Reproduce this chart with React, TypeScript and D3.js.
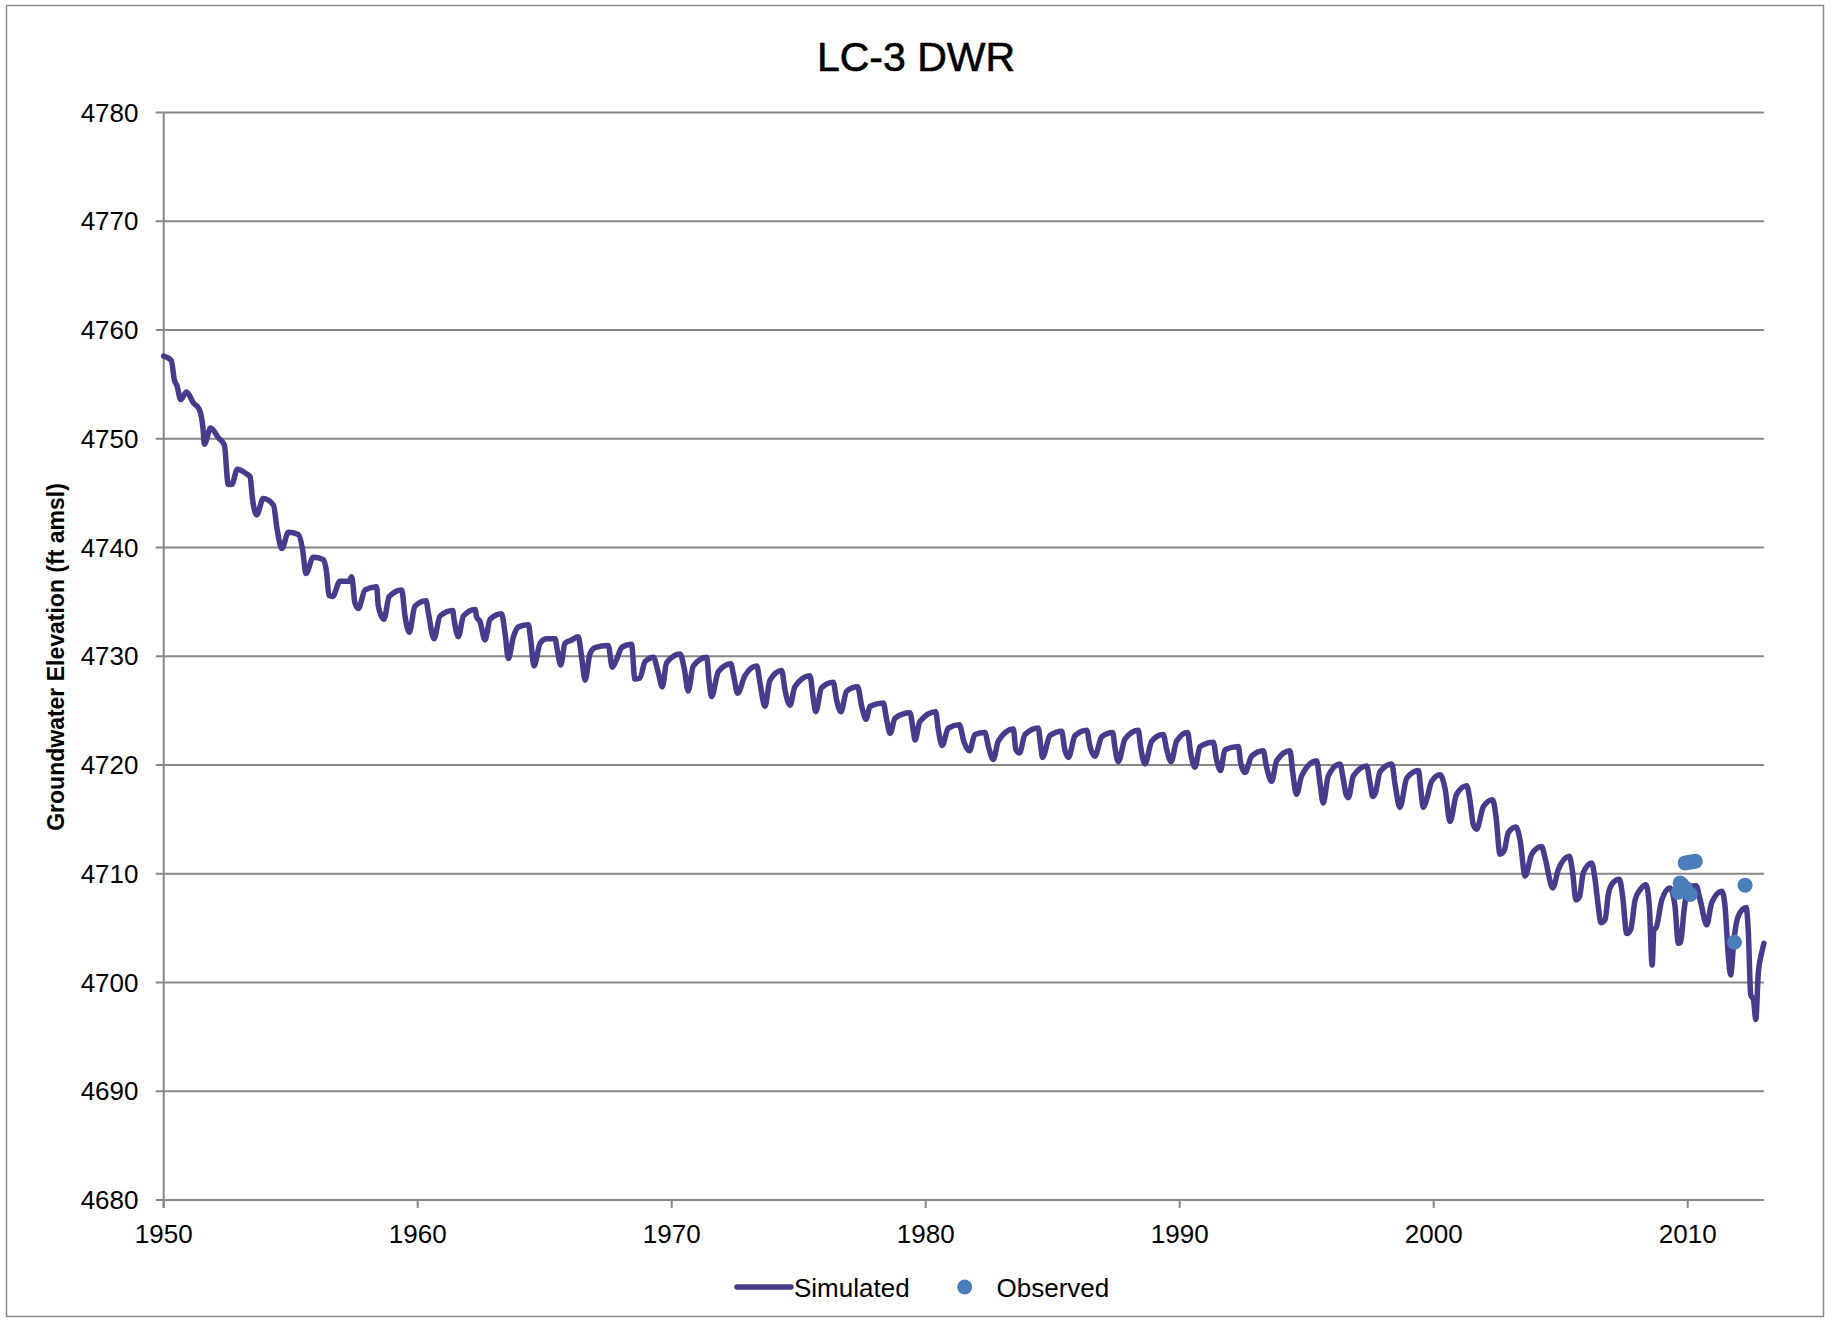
import React from "react";
import * as d3 from "d3";

const chartTitle = "LC-3 DWR";
const yAxisTitle = "Groundwater Elevation (ft amsl)";
const xTicks = [1950, 1960, 1970, 1980, 1990, 2000, 2010];
const yTicks = [4680, 4690, 4700, 4710, 4720, 4730, 4740, 4750, 4760, 4770, 4780];
const legendLabels = ["Simulated", "Observed"];

// [decimal year, elevation ft amsl]
const simulated: [number, number][] = [
  [1950.0, 4757.6], [1950.3, 4757.2], [1950.42, 4755.4], [1950.52, 4754.9], [1950.67, 4753.6], [1950.9, 4754.3],
  [1951.17, 4753.3], [1951.4, 4752.7], [1951.55, 4750.9], [1951.6, 4749.5], [1951.85, 4751.0],
  [1952.15, 4750.1], [1952.39, 4749.4], [1952.54, 4745.8], [1952.68, 4745.8], [1952.9, 4747.2],
  [1953.24, 4746.8], [1953.4, 4746.5], [1953.5, 4744.4], [1953.66, 4743.0], [1953.92, 4744.5],
  [1954.32, 4743.9], [1954.47, 4741.6], [1954.65, 4739.9], [1954.91, 4741.4],
  [1955.3, 4741.2], [1955.47, 4739.8], [1955.6, 4737.6], [1955.89, 4739.1],
  [1956.28, 4738.9], [1956.42, 4737.6], [1956.5, 4735.6], [1956.65, 4735.5], [1956.94, 4736.9],
  [1957.3, 4736.9], [1957.4, 4737.3], [1957.53, 4734.9], [1957.66, 4734.4], [1957.93, 4736.1],
  [1958.38, 4736.4], [1958.45, 4734.6], [1958.67, 4733.4], [1958.88, 4735.5],
  [1959.37, 4736.1], [1959.5, 4733.7], [1959.67, 4732.2], [1959.89, 4734.6],
  [1960.33, 4735.1], [1960.42, 4734.0], [1960.64, 4731.6], [1960.88, 4733.7],
  [1961.38, 4734.2], [1961.43, 4733.4], [1961.6, 4731.8], [1961.8, 4733.7],
  [1962.26, 4734.3], [1962.32, 4733.6], [1962.45, 4733.2], [1962.65, 4731.5], [1962.85, 4733.4],
  [1963.3, 4733.9], [1963.44, 4732.1], [1963.57, 4729.8], [1963.77, 4731.8], [1963.97, 4732.7],
  [1964.36, 4732.9], [1964.45, 4731.5], [1964.58, 4729.1], [1964.82, 4731.2],
  [1965.08, 4731.6], [1965.41, 4731.6], [1965.5, 4730.5], [1965.63, 4729.2], [1965.8, 4731.2],
  [1966.06, 4731.5], [1966.32, 4731.8], [1966.45, 4730.0], [1966.59, 4727.8], [1966.78, 4730.2], [1966.98, 4730.8],
  [1967.5, 4731.0], [1967.66, 4729.0], [1967.83, 4729.7],
  [1968.03, 4730.8], [1968.42, 4731.1], [1968.55, 4727.9], [1968.75, 4728.0], [1968.95, 4729.5],
  [1969.28, 4729.9], [1969.47, 4728.5], [1969.63, 4727.2], [1969.8, 4729.4],
  [1970.33, 4730.2], [1970.5, 4728.8], [1970.65, 4726.8], [1970.85, 4729.1],
  [1971.38, 4729.9], [1971.47, 4727.8], [1971.57, 4726.3], [1971.84, 4728.6],
  [1972.33, 4729.3], [1972.43, 4728.3], [1972.6, 4726.6], [1972.88, 4728.2],
  [1973.35, 4729.1], [1973.48, 4727.5], [1973.67, 4725.4], [1973.87, 4727.8],
  [1974.33, 4728.7], [1974.46, 4726.9], [1974.66, 4725.5], [1974.85, 4727.2],
  [1975.44, 4728.2], [1975.58, 4726.0], [1975.67, 4724.9], [1975.9, 4727.1],
  [1976.36, 4727.6], [1976.49, 4726.0], [1976.66, 4724.9], [1976.89, 4726.8],
  [1977.32, 4727.2], [1977.48, 4725.4], [1977.65, 4724.2], [1977.81, 4725.4],
  [1978.33, 4725.7], [1978.46, 4724.2], [1978.6, 4722.9], [1978.79, 4724.3],
  [1979.38, 4724.8], [1979.51, 4723.2], [1979.58, 4722.3], [1979.77, 4724.0],
  [1980.39, 4724.9], [1980.5, 4723.2], [1980.65, 4721.8], [1980.89, 4723.4],
  [1981.32, 4723.7], [1981.51, 4722.1], [1981.72, 4721.3], [1981.94, 4722.8],
  [1982.33, 4723.0], [1982.47, 4721.7], [1982.66, 4720.5], [1982.86, 4722.2],
  [1983.45, 4723.3], [1983.55, 4721.4], [1983.69, 4721.1], [1983.91, 4722.8],
  [1984.43, 4723.4], [1984.53, 4721.7], [1984.6, 4720.7], [1984.89, 4722.7],
  [1985.35, 4723.1], [1985.48, 4721.4], [1985.62, 4720.7], [1985.88, 4722.7],
  [1986.34, 4723.2], [1986.47, 4721.7], [1986.66, 4720.8], [1986.93, 4722.6],
  [1987.36, 4723.0], [1987.45, 4721.6], [1987.58, 4720.3], [1987.85, 4722.4],
  [1988.37, 4723.2], [1988.46, 4721.7], [1988.63, 4720.1], [1988.9, 4722.2],
  [1989.35, 4722.8], [1989.49, 4721.4], [1989.66, 4720.3], [1989.88, 4722.2],
  [1990.31, 4723.0], [1990.43, 4721.1], [1990.6, 4719.8], [1990.8, 4721.7],
  [1991.32, 4722.1], [1991.45, 4720.5], [1991.61, 4719.5], [1991.78, 4721.4],
  [1992.31, 4721.7], [1992.4, 4720.2], [1992.57, 4719.3], [1992.83, 4720.8],
  [1993.29, 4721.3], [1993.42, 4719.8], [1993.62, 4718.5], [1993.82, 4720.4],
  [1994.34, 4721.3], [1994.45, 4719.3], [1994.6, 4717.3], [1994.8, 4719.0],
  [1995.39, 4720.4], [1995.52, 4718.4], [1995.65, 4716.5], [1995.85, 4719.0],
  [1996.31, 4720.1], [1996.44, 4718.7], [1996.55, 4717.3], [1996.64, 4717.0], [1996.84, 4719.0],
  [1997.36, 4719.9], [1997.49, 4718.4], [1997.6, 4717.1], [1997.7, 4717.4], [1997.89, 4719.4],
  [1998.35, 4720.1], [1998.48, 4718.2], [1998.67, 4716.1], [1998.94, 4718.8],
  [1999.4, 4719.5], [1999.49, 4717.8], [1999.59, 4716.1], [1999.72, 4716.8], [1999.92, 4718.5],
  [2000.25, 4719.1], [2000.45, 4717.8], [2000.64, 4714.8], [2000.9, 4717.3],
  [2001.3, 4718.1], [2001.43, 4716.7], [2001.56, 4714.5], [2001.69, 4714.1], [2001.96, 4716.2],
  [2002.32, 4716.8], [2002.45, 4715.3], [2002.61, 4711.8], [2002.77, 4712.1], [2002.94, 4713.8],
  [2003.24, 4714.3], [2003.4, 4713.1], [2003.6, 4709.8], [2003.86, 4711.8],
  [2004.25, 4712.5], [2004.38, 4711.5], [2004.69, 4708.7], [2004.91, 4710.4],
  [2005.34, 4711.6], [2005.47, 4710.1], [2005.6, 4707.6], [2005.74, 4707.9], [2005.89, 4710.1],
  [2006.22, 4711.0], [2006.35, 4709.5], [2006.48, 4707.0], [2006.58, 4705.5], [2006.75, 4705.8], [2006.88, 4708.2],
  [2007.07, 4709.2], [2007.31, 4709.5], [2007.44, 4707.9], [2007.6, 4704.5], [2007.76, 4704.9], [2007.93, 4707.6],
  [2008.15, 4708.6], [2008.36, 4709.0], [2008.49, 4707.0], [2008.6, 4701.6], [2008.67, 4704.9], [2008.75, 4705.0], [2008.98, 4707.6],
  [2009.3, 4708.7], [2009.5, 4707.0], [2009.63, 4703.6], [2009.72, 4703.7], [2009.86, 4706.7],
  [2010.03, 4708.8], [2010.33, 4708.9], [2010.49, 4707.6], [2010.75, 4705.3], [2010.94, 4707.3],
  [2011.34, 4708.4], [2011.47, 4707.0], [2011.6, 4702.4], [2011.69, 4700.7], [2011.82, 4703.9], [2011.99, 4706.1],
  [2012.3, 4706.9], [2012.39, 4704.5], [2012.48, 4698.9], [2012.59, 4698.4], [2012.68, 4696.6], [2012.78, 4700.9],
  [2012.91, 4702.7], [2013.0, 4703.6],
];

const observed: [number, number][] = [
  [2009.9, 4711.0], [2010.05, 4711.05], [2010.2, 4711.1], [2010.3, 4711.15],
  [2009.7, 4709.15], [2009.63, 4708.3], [2009.76, 4709.0], [2009.9, 4708.7], [2010.1, 4708.1],
  [2012.26, 4708.95], [2011.84, 4703.7],
];

const W = 1834;
const H = 1322;
const FONT = "'Liberation Sans', Arial, sans-serif";
const GRID = "#878787";
const LINE_COLOR = "#463C8C";
const DOT_COLOR = "#4A7EBB";

export default function App() {
  const x = d3.scaleLinear().domain([1950, 2013]).range([163.7, 1763.9]);
  const y = d3.scaleLinear().domain([4680, 4780]).range([1200, 112.5]);
  const line = d3
    .line<[number, number]>()
    .x((d) => x(d[0]))
    .y((d) => y(d[1]))
    .curve(d3.curveMonotoneX);

  const x0 = x.range()[0];
  const x1 = x.range()[1];
  const yBase = y(4680);

  return (
    <svg
      width={W}
      height={H}
      viewBox={`0 0 ${W} ${H}`}
      style={{ position: "absolute", left: 0, top: 0, background: "#fff" }}
      fontFamily={FONT}
    >
      <rect x={0} y={0} width={W} height={H} fill="#fff" />
      <rect x={6.5} y={5.5} width={1817} height={1311} fill="none" stroke="#8a8a8a" strokeWidth={1.5} />

      <text x={916} y={71} textAnchor="middle" fontSize={41} fill="#000" stroke="#000" strokeWidth={0.6}>
        {chartTitle}
      </text>

      {/* gridlines */}
      {yTicks.filter((t) => t !== 4680).map((t) => (
        <line key={"g" + t} x1={x0} x2={x1} y1={y(t)} y2={y(t)} stroke={GRID} strokeWidth={2} />
      ))}
      {/* axes */}
      <line x1={x0} x2={x1} y1={yBase} y2={yBase} stroke={GRID} strokeWidth={2} />
      <line x1={x0} x2={x0} y1={y(4780)} y2={yBase + 8} stroke={GRID} strokeWidth={2} />
      {yTicks.map((t) => (
        <g key={"yt" + t}>
          <line x1={x0 - 8} x2={x0} y1={y(t)} y2={y(t)} stroke={GRID} strokeWidth={2} />
          <text x={138.5} y={y(t) + 9} textAnchor="end" fontSize={26} fill="#000">
            {t}
          </text>
        </g>
      ))}
      {xTicks.map((t) => (
        <g key={"xt" + t}>
          <line x1={x(t)} x2={x(t)} y1={yBase} y2={yBase + 8} stroke={GRID} strokeWidth={2} />
          <text x={x(t)} y={1243} textAnchor="middle" fontSize={26} fill="#000">
            {t}
          </text>
        </g>
      ))}

      <text
        transform={`translate(64,657) rotate(-90)`}
        textAnchor="middle"
        fontSize={23}
        fontWeight="bold"
        fill="#000"
      >
        {yAxisTitle}
      </text>

      <path d={line(simulated) || ""} fill="none" stroke={LINE_COLOR} strokeWidth={5.5} strokeLinejoin="round" strokeLinecap="round" />

      {observed.map((d, i) => (
        <circle key={"o" + i} cx={x(d[0])} cy={y(d[1])} r={7.5} fill={DOT_COLOR} />
      ))}

      {/* legend */}
      <line x1={737} x2={791} y1={1287} y2={1287} stroke={LINE_COLOR} strokeWidth={5.5} strokeLinecap="round" />
      <text x={794} y={1296.5} fontSize={26} fill="#000">
        {legendLabels[0]}
      </text>
      <circle cx={964.7} cy={1287} r={7.5} fill={DOT_COLOR} />
      <text x={996.5} y={1296.5} fontSize={26} fill="#000">
        {legendLabels[1]}
      </text>
    </svg>
  );
}
